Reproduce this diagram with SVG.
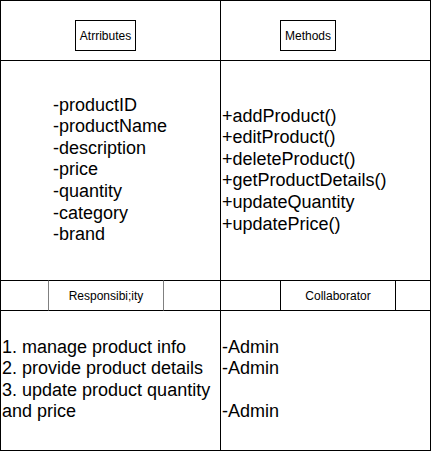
<svg xmlns="http://www.w3.org/2000/svg" width="432" height="451" viewBox="0 0 432 451">
<style>
.ln{stroke:#000;stroke-width:1;fill:none}
.hd{font-family:"Liberation Sans",Arial,sans-serif;font-size:12px;fill:#000;text-anchor:middle}
.tx{font-family:"Liberation Sans",Arial,sans-serif;font-size:18px;fill:#000}
</style>
<rect width="432" height="451" fill="#fff"/>
<g id="frame">
<rect class="ln" x="0.5" y="0.5" width="430" height="450"/>
<line class="ln" x1="220.5" y1="0.5" x2="220.5" y2="450.5"/>
<line class="ln" x1="0.5" y1="60.5" x2="430.5" y2="60.5"/>
<line class="ln" x1="0.5" y1="280.5" x2="430.5" y2="280.5"/>
<line class="ln" x1="0.5" y1="310.5" x2="430.5" y2="310.5"/>
</g>
<g id="attributes-header">
<rect class="ln" x="75.5" y="20.5" width="60" height="30"/>
<text class="hd" x="105.5" y="39.5">Atrributes</text>
</g>
<g id="methods-header">
<rect class="ln" x="280.5" y="20.5" width="55" height="30"/>
<text class="hd" x="308" y="39.5">Methods</text>
</g>
<g id="attributes">
<text class="tx" x="53" y="110.5">-productID</text>
<text class="tx" x="53" y="132.1">-productName</text>
<text class="tx" x="53" y="153.7">-description</text>
<text class="tx" x="53" y="175.3">-price</text>
<text class="tx" x="53" y="196.9">-quantity</text>
<text class="tx" x="53" y="218.5">-category</text>
<text class="tx" x="53" y="240.1">-brand</text>
</g>
<g id="methods">
<text class="tx" x="222" y="121.5">+addProduct()</text>
<text class="tx" x="222" y="143.1">+editProduct()</text>
<text class="tx" x="222" y="164.7">+deleteProduct()</text>
<text class="tx" x="222" y="186.3">+getProductDetails()</text>
<text class="tx" x="222" y="207.9">+updateQuantity</text>
<text class="tx" x="222" y="229.5">+updatePrice()</text>
</g>
<g id="responsibility-header">
<line x1="48.5" y1="280.5" x2="48.5" y2="310.5" stroke="#808080" stroke-width="1"/>
<line x1="163.5" y1="280.5" x2="163.5" y2="310.5" stroke="#808080" stroke-width="1"/>
<text class="hd" x="106" y="299.5">Responsibi;ity</text>
</g>
<g id="collaborator-header">
<line class="ln" x1="280.5" y1="280.5" x2="280.5" y2="310.5"/>
<line class="ln" x1="395.5" y1="280.5" x2="395.5" y2="310.5"/>
<text class="hd" x="338" y="299.5">Collaborator</text>
</g>
<g id="responsibilities">
<text class="tx" x="2" y="352.5">1. manage product info</text>
<text class="tx" x="2" y="374.1">2. provide product details</text>
<text class="tx" x="2" y="395.7">3. update product quantity</text>
<text class="tx" x="2" y="417.3">and price</text>
</g>
<g id="collaborators">
<text class="tx" x="222" y="352.5">-Admin</text>
<text class="tx" x="222" y="374.1">-Admin</text>
<text class="tx" x="222" y="417.3">-Admin</text>
</g>
<g id="connectors"></g>
</svg>
